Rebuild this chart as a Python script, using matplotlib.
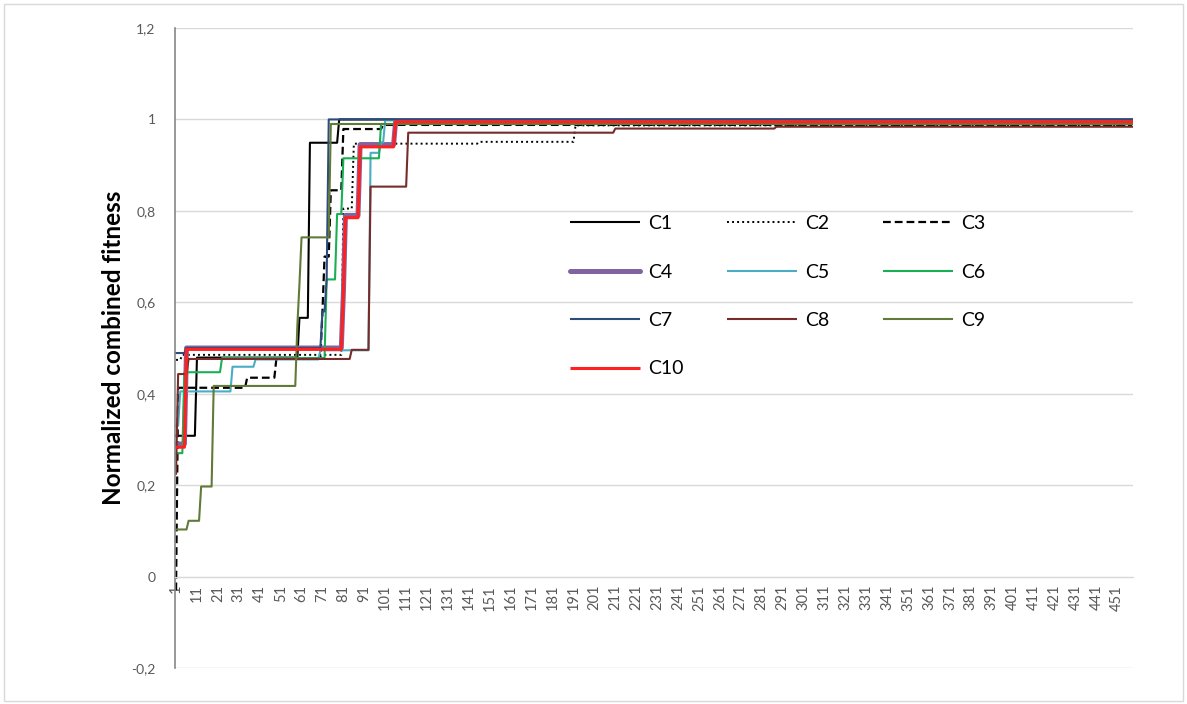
import matplotlib.pyplot as plt
from matplotlib.lines import Line2D
from matplotlib.patches import Rectangle

plt.rcParams['font.family'] = ['Lato', 'DejaVu Sans']

# number of generations on the category axis
n_points = 458
x_ticks = list(range(1, 452, 10))
y_ticks = [-0.2, 0, 0.2, 0.4, 0.6, 0.8, 1.0, 1.2]
y_tick_labels = ['-0,2', '0', '0,2', '0,4', '0,6', '0,8', '1', '1,2']

# each series: generation where the value changes, and the new value
c1_x = [1, 11, 60, 65, 79]
c1_y = [0.308, 0.479, 0.566, 0.949, 1.0]
c2_x = [1, 4, 81, 86, 146, 192]
c2_y = [0.474, 0.485, 0.805, 0.947, 0.951, 0.987]
c3_x = [1, 2, 35, 49, 71, 72, 75, 81, 100]
c3_y = [-0.03, 0.413, 0.435, 0.478, 0.58, 0.70, 0.845, 0.979, 0.988]
c4_x = [1, 6, 81, 82, 89, 106]
c4_y = [0.29, 0.50, 0.62, 0.79, 0.945, 0.997]
c5_x = [1, 3, 28, 39, 70, 94, 99, 101]
c5_y = [0.33, 0.405, 0.459, 0.475, 0.495, 0.927, 0.95, 0.998]
c6_x = [1, 5, 23, 73, 78, 81, 99]
c6_y = [0.27, 0.447, 0.478, 0.65, 0.793, 0.915, 0.99]
c7_x = [1, 6, 71, 73, 74]
c7_y = [0.489, 0.50, 0.58, 0.65, 1.0]
c8_x = [1, 2, 7, 85, 94, 112, 211, 288]
c8_y = [0.225, 0.443, 0.476, 0.496, 0.853, 0.971, 0.98, 0.984]
c9_x = [1, 7, 13, 19, 59, 60, 61, 75]
c9_y = [0.103, 0.122, 0.197, 0.417, 0.55, 0.64, 0.742, 0.99]
c10_x = [1, 6, 81, 82, 89, 106]
c10_y = [0.283, 0.497, 0.62, 0.785, 0.94, 0.995]

series = [
    ('C1', c1_x, c1_y, '#000000', 1.5, '-'),
    ('C2', c2_x, c2_y, '#000000', 1.4, (0, (1, 1.6))),
    ('C3', c3_x, c3_y, '#000000', 1.6, (0, (3.5, 1.8))),
    ('C4', c4_x, c4_y, '#8064A2', 3.6, '-'),
    ('C5', c5_x, c5_y, '#4BACC6', 1.5, '-'),
    ('C6', c6_x, c6_y, '#1AAF54', 1.5, '-'),
    ('C7', c7_x, c7_y, '#2C4D7C', 1.5, '-'),
    ('C8', c8_x, c8_y, '#772C2A', 1.5, '-'),
    ('C9', c9_x, c9_y, '#617A37', 1.5, '-'),
    ('C10', c10_x, c10_y, '#FF2020', 2.2, '-'),
]


def step_line(xs, ys, n):
    # value held until the generation before the next change (Excel line chart)
    px, py = [], []
    for i in range(len(xs)):
        end = xs[i + 1] - 1 if i + 1 < len(xs) else n
        px += [xs[i], end]
        py += [ys[i], ys[i]]
    return px, py


fig = plt.figure(figsize=(11.87, 7.04), dpi=100)
ax = fig.add_axes([175 / 1187, 1 - 668 / 704, 958 / 1187, 640 / 704])

handles = {}
for name, xs, ys, color, lw, ls in series:
    px, py = step_line(xs, ys, n_points)
    ax.plot(px, py, color=color, lw=lw, linestyle=ls, solid_joinstyle='round')
    handles[name] = Line2D([], [], color=color, lw=lw, linestyle=ls,
                           solid_capstyle='round' if name == 'C4' else 'butt')

ax.set_xlim(0.5, n_points + 0.5)
ax.set_ylim(-0.2, 1.2)

ax.set_yticks(y_ticks, y_tick_labels)
ax.set_xticks(x_ticks, [str(v) for v in x_ticks])
ax.tick_params(axis='y', length=0, pad=14, labelsize=10, labelcolor='#595959')
ax.tick_params(axis='x', length=0, pad=6, labelsize=10.5, labelcolor='#595959',
               labelrotation=90)

ax.yaxis.grid(True, color='#D9D9D9', lw=1)
ax.set_axisbelow(True)
ax.spines['top'].set_visible(False)
ax.spines['right'].set_visible(False)
ax.spines['left'].set_color('#868686')
ax.spines['left'].set_linewidth(1.2)
ax.spines['bottom'].set_position(('data', 0))
ax.spines['bottom'].set_color('#D9D9D9')

fig.text(114 / 1187, 1 - 348 / 704, 'Normalized combined fitness', rotation=90,
         ha='center', va='center', fontsize=17.5, fontweight='bold')

# legend laid out row by row like Excel, one column block per legend
columns = [['C1', 'C4', 'C7', 'C10'], ['C2', 'C5', 'C8'], ['C3', 'C6', 'C9']]
col_left = [570, 727, 883]
for names, left in zip(columns, col_left):
    leg = fig.legend([handles[k] for k in names], names, loc='upper left',
                     bbox_to_anchor=(left / 1187, 1 - 215 / 704), frameon=False,
                     fontsize=14, handlelength=3.6, handletextpad=0.4,
                     labelspacing=1.62, borderpad=0, borderaxespad=0)

fig.add_artist(Rectangle((0.003, 0.004), 0.994, 0.991, transform=fig.transFigure,
                         fill=False, edgecolor='#D9D9D9', lw=1))

fig.savefig('out.png', dpi=100)
